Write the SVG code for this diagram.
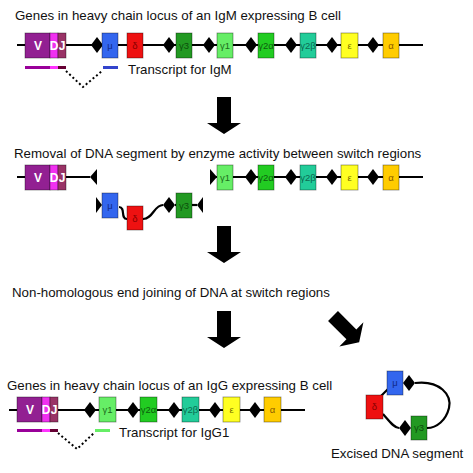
<svg xmlns="http://www.w3.org/2000/svg" width="473" height="473" viewBox="0 0 473 473">
<style>
text{font-family:"Liberation Sans",Arial,sans-serif}
.t{font-size:13.3px;fill:#111}
.dna{stroke:#000;stroke-width:2.2;fill:none}
.dot{stroke:#000;stroke-width:2;fill:none;stroke-dasharray:2 2.5}
.sw{fill:#000}
.bx{stroke:rgba(0,0,0,0.45);stroke-width:0.8}
.gl{font-size:9.5px;text-anchor:middle}
.vl{font-size:12px;fill:#fff;text-anchor:middle;font-weight:bold}
.arr{fill:#000}
.V{fill:#922092}.D{fill:#f030f0}.J{fill:#993366}
.mu{fill:#3366ee}.de{fill:#ee1111}.g3{fill:#229922}.g1{fill:#66ee66}.g2a{fill:#22cc22}.g2b{fill:#22cc99}.ep{fill:#ffff22}.al{fill:#ffcc00}
.lmu{fill:#112a88}.lde{fill:#880000}.lg3{fill:#0c4d0c}.lg1{fill:#1d6d1d}.lg2a{fill:#0d5d0d}.lg2b{fill:#0c6a50}.lep{fill:#777000}.lal{fill:#8a5a00}
</style>
<defs>
<polygon id="dia" points="-6,0 0,-8 6,0 0,8"/>
<polygon id="downArrow" points="-7,0 7,0 7,26 17,26 0,37 -17,26 -7,26"/>
</defs>

<!-- Titles -->
<text id="title1" class="t" x="15" y="20">Genes in heavy chain locus of an IgM expressing B cell</text>
<text id="title2" class="t" x="14" y="158">Removal of DNA segment by enzyme activity between switch regions</text>
<text id="title3" class="t" x="12" y="297">Non-homologous end joining of DNA at switch regions</text>
<text id="title4" class="t" x="7" y="390">Genes in heavy chain locus of an IgG expressing B cell</text>

<g id="connectors">
  <!-- row 1 DNA -->
  <path class="dna" d="M17,45 H423"/>
  <path class="dot" d="M66,71 L83,87 L102,71"/>
  <!-- row 2 DNA -->
  <path class="dna" d="M17,177 H90"/>
  <path class="dna" d="M210,177 H423"/>
  <path class="dna" d="M119,207 C126,207 120,219 127,219"/>
  <path class="dna" d="M143,219 C153,219 154,205 163,205"/>
  <path class="dna" d="M175,205 H197"/>
  <!-- row 4 DNA -->
  <path class="dna" d="M9,410 H305"/>
  <path class="dot" d="M58,433 L77,449 L94,433"/>
  <!-- excised loop -->
  <path class="dna" d="M415,383 C440,380 452,395 449,408 C446,420 437,428 427,428"/>
  <path class="dna" d="M388,389 L381,396"/>
  <path class="dna" d="M383,414 C390,422 394,428 399,428"/>
  <!-- block arrows -->
  <use href="#downArrow" class="arr" transform="translate(224,97)"/>
  <use href="#downArrow" class="arr" transform="translate(224,226)"/>
  <use href="#downArrow" class="arr" transform="translate(224,311)"/>
  <use href="#downArrow" class="arr" transform="translate(333,316) rotate(-45)"/>
</g>

<!-- Row 1 -->
<g id="row1-vdj">
  <rect class="V bx" x="25" y="33" width="25" height="25"/>
  <rect class="D bx" x="50" y="33" width="8" height="25"/>
  <rect class="J bx" x="58" y="33" width="8" height="25"/>
  <text class="vl" x="38" y="50">V</text>
  <text class="vl" x="54" y="50">D</text>
  <text class="vl" x="62" y="50">J</text>
</g>
<g id="row1-switch">
  <use href="#dia" class="sw" x="97" y="45"/>
  <use href="#dia" class="sw" x="169" y="45"/>
  <use href="#dia" class="sw" x="209" y="45"/>
  <use href="#dia" class="sw" x="251" y="45"/>
  <use href="#dia" class="sw" x="291" y="45"/>
  <use href="#dia" class="sw" x="332" y="45"/>
  <use href="#dia" class="sw" x="373" y="45"/>
</g>
<g id="row1-mu"><rect class="mu bx" x="102" y="33" width="16" height="25"/><text class="gl lmu" x="110" y="49">μ</text></g>
<g id="row1-delta"><rect class="de bx" x="127" y="33" width="16" height="25"/><text class="gl lde" x="135" y="49">δ</text></g>
<g id="row1-g3"><rect class="g3 bx" x="176" y="33" width="16" height="25"/><text class="gl lg3" x="184" y="49">γ3</text></g>
<g id="row1-g1"><rect class="g1 bx" x="217" y="33" width="16" height="25"/><text class="gl lg1" x="225" y="49">γ1</text></g>
<g id="row1-g2a"><rect class="g2a bx" x="258" y="33" width="16" height="25"/><text class="gl lg2a" x="266" y="49">γ2α</text></g>
<g id="row1-g2b"><rect class="g2b bx" x="300" y="33" width="16" height="25"/><text class="gl lg2b" x="308" y="49">γ2β</text></g>
<g id="row1-eps"><rect class="ep bx" x="341" y="33" width="17" height="25"/><text class="gl lep" x="349.5" y="49">ε</text></g>
<g id="row1-alpha"><rect class="al bx" x="383" y="33" width="16" height="25"/><text class="gl lal" x="391" y="49">α</text></g>
<g id="row1-transcript">
  <rect x="25" y="66" width="25" height="3" fill="#990099"/>
  <rect x="50" y="66" width="8" height="3" fill="#ff33ff"/>
  <rect x="58" y="66" width="8" height="3" fill="#660033"/>
  <rect x="103" y="66" width="15" height="3" fill="#3344cc"/>
  <text class="t" x="128" y="74">Transcript for IgM</text>
</g>

<!-- Row 2 -->
<g id="row2-vdj">
  <rect class="V bx" x="25" y="165" width="25" height="25"/>
  <rect class="D bx" x="50" y="165" width="8" height="25"/>
  <rect class="J bx" x="58" y="165" width="8" height="25"/>
  <text class="vl" x="38" y="182">V</text>
  <text class="vl" x="54" y="182">D</text>
  <text class="vl" x="62" y="182">J</text>
  <polygon class="sw" points="90,177 97,169 97,185"/>
</g>
<g id="row2-right">
  <polygon class="sw" points="210,169 217,177 210,185"/>
  <use href="#dia" class="sw" x="251" y="177"/>
  <use href="#dia" class="sw" x="291" y="177"/>
  <use href="#dia" class="sw" x="332" y="177"/>
  <use href="#dia" class="sw" x="373" y="177"/>
  <rect class="g1 bx" x="217" y="165" width="16" height="25"/><text class="gl lg1" x="225" y="181">γ1</text>
  <rect class="g2a bx" x="258" y="165" width="16" height="25"/><text class="gl lg2a" x="266" y="181">γ2α</text>
  <rect class="g2b bx" x="300" y="165" width="16" height="25"/><text class="gl lg2b" x="308" y="181">γ2β</text>
  <rect class="ep bx" x="341" y="165" width="17" height="25"/><text class="gl lep" x="349.5" y="181">ε</text>
  <rect class="al bx" x="383" y="165" width="16" height="25"/><text class="gl lal" x="391" y="181">α</text>
</g>
<g id="row2-excising">
  <polygon class="sw" points="96,197 102,205 96,213"/>
  <rect class="mu bx" x="102" y="193" width="16" height="25"/><text class="gl lmu" x="110" y="209">μ</text>
  <rect class="de bx" x="127" y="206" width="16" height="24"/><text class="gl lde" x="135" y="222">δ</text>
  <use href="#dia" class="sw" x="169" y="205"/>
  <rect class="g3 bx" x="176" y="193" width="16" height="25"/><text class="gl lg3" x="184" y="209">γ3</text>
  <polygon class="sw" points="197,205 203,197 203,213"/>
</g>

<!-- Row 4 -->
<g id="row4-vdj">
  <rect class="V bx" x="17" y="397" width="25" height="25"/>
  <rect class="D bx" x="42" y="397" width="8" height="25"/>
  <rect class="J bx" x="50" y="397" width="8" height="25"/>
  <text class="vl" x="30" y="414">V</text>
  <text class="vl" x="46" y="414">D</text>
  <text class="vl" x="54" y="414">J</text>
</g>
<g id="row4-genes">
  <use href="#dia" class="sw" x="90" y="410"/>
  <use href="#dia" class="sw" x="133" y="410"/>
  <use href="#dia" class="sw" x="174" y="410"/>
  <use href="#dia" class="sw" x="215" y="410"/>
  <use href="#dia" class="sw" x="255" y="410"/>
  <rect class="g1 bx" x="99" y="397" width="17" height="25"/><text class="gl lg1" x="107.5" y="413">γ1</text>
  <rect class="g2a bx" x="140" y="397" width="17" height="25"/><text class="gl lg2a" x="148.5" y="413">γ2α</text>
  <rect class="g2b bx" x="182" y="397" width="17" height="25"/><text class="gl lg2b" x="190.5" y="413">γ2β</text>
  <rect class="ep bx" x="223" y="397" width="17" height="25"/><text class="gl lep" x="231.5" y="413">ε</text>
  <rect class="al bx" x="264" y="397" width="17" height="25"/><text class="gl lal" x="272.5" y="413">α</text>
</g>
<g id="row4-transcript">
  <rect x="17" y="429" width="25" height="3" fill="#990099"/>
  <rect x="42" y="429" width="8" height="3" fill="#ff33ff"/>
  <rect x="50" y="429" width="8" height="3" fill="#660033"/>
  <rect x="95" y="429" width="15" height="3" fill="#66ee66"/>
  <text class="t" x="119" y="437">Transcript for IgG1</text>
</g>

<!-- Excised circle -->
<g id="excised">
  <rect class="mu bx" x="387" y="371" width="16" height="24"/><text class="gl lmu" x="395" y="386">μ</text>
  <use href="#dia" class="sw" x="409" y="383"/>
  <rect class="de bx" x="366" y="395" width="17" height="24"/><text class="gl lde" x="374.5" y="410">δ</text>
  <use href="#dia" class="sw" x="405" y="428"/>
  <rect class="g3 bx" x="411" y="416" width="16" height="24"/><text class="gl lg3" x="419" y="431">γ3</text>
  <text class="t" x="331" y="458">Excised DNA segment</text>
</g>
</svg>
